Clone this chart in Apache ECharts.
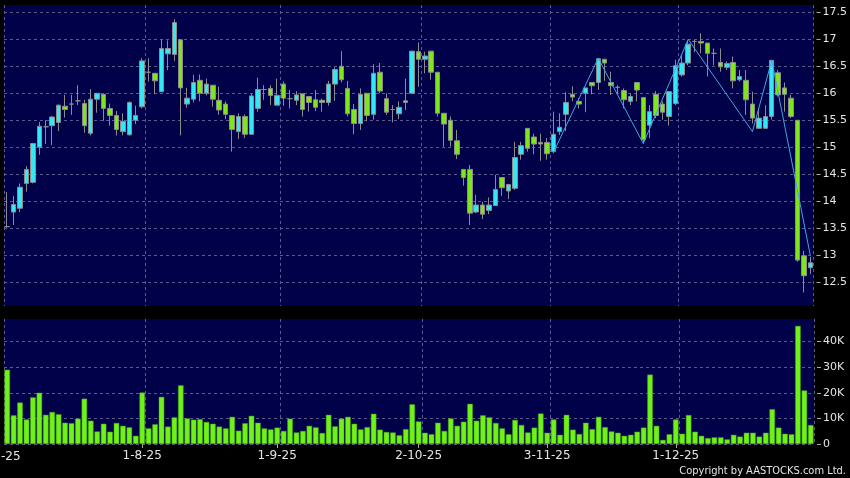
<!DOCTYPE html>
<html>
<head>
<meta charset="utf-8">
<script src="https://cdn.jsdelivr.net/npm/echarts@6/dist/echarts.min.js"></script>
<style>
  html, body { margin: 0; padding: 0; background: #000; }
  #main { width: 850px; height: 478px; }
</style>
</head>
<body>
<div id="main"></div>
<script>
  // trading days 3-7-25 .. 2-1-26, HK holidays left out
  var holidays = ['2025-10-01', '2025-10-07', '2025-10-29', '2025-12-25', '2025-12-26', '2026-01-01'];
  var labelDates = ['1-8-25', '1-9-25', '2-10-25', '3-11-25', '1-12-25'];
  var firstLabel = '2-7-25';   // day before the first bar, only its tail shows
  var priceTicks = [12.5, 13, 13.5, 14, 14.5, 15, 15.5, 16, 16.5, 17, 17.5];
  var volTicks = [0, 10000, 20000, 30000, 40000];

  var opens = [13.53, 13.80, 13.87, 14.33, 14.35, 15.00, 15.38, 15.40, 15.46, 15.76,
    15.80, 15.86, 15.81, 15.26, 15.89, 15.98, 15.72, 15.59, 15.29, 15.23,
    15.50, 15.75, 16.39, 16.37, 16.03, 16.73, 16.72, 16.99, 15.80, 15.89,
    16.24, 16.00, 16.15, 15.87, 15.80, 15.59, 15.29, 15.57, 15.24, 15.72,
    16.07, 16.09, 15.78, 16.17, 15.90, 15.87, 15.99, 15.94, 15.88, 15.87,
    15.83, 16.17, 16.50, 16.09, 15.70, 15.44, 16.00, 15.61, 16.39, 15.90,
    15.70, 15.62, 15.83, 16.00, 16.77, 16.63, 16.78, 16.39, 15.63, 15.50,
    15.12, 14.59, 14.59, 13.80, 13.93, 13.83, 13.92, 14.44, 14.19, 14.24,
    14.87, 15.35, 15.19, 15.09, 15.09, 14.92, 15.29, 15.61, 15.98, 15.85,
    16.00, 16.20, 16.20, 16.63, 16.20, 16.11, 16.05, 15.85, 16.20, 15.92,
    15.41, 15.98, 15.80, 15.57, 15.81, 16.34, 16.56, 16.96, 16.96, 16.93,
    16.74, 16.57, 16.48, 16.57, 16.25, 16.24, 15.80, 15.35, 15.35, 15.57,
    16.38, 16.10, 15.91, 15.50, 12.99, 12.77];
  var closes = [13.53, 13.94, 14.26, 14.59, 15.07, 15.39, 15.38, 15.56, 15.78, 15.70,
    15.80, 15.86, 15.40, 15.89, 16.00, 15.72, 15.59, 15.33, 15.48, 15.83,
    15.59, 16.60, 16.39, 16.23, 16.83, 16.83, 17.31, 16.10, 15.91, 16.20,
    16.00, 16.17, 15.89, 15.69, 15.61, 15.33, 15.57, 15.24, 15.95, 16.07,
    16.07, 15.96, 15.96, 15.91, 15.90, 15.97, 15.70, 15.83, 15.74, 15.83,
    16.17, 16.44, 16.25, 15.62, 15.44, 15.98, 15.59, 16.37, 16.04, 15.65,
    15.70, 15.74, 15.86, 16.78, 16.63, 16.69, 16.39, 15.63, 15.43, 15.13,
    14.87, 14.44, 13.78, 13.93, 13.76, 13.93, 14.22, 14.25, 14.31, 14.81,
    15.03, 14.98, 15.06, 15.06, 14.88, 15.24, 15.37, 15.83, 15.93, 15.80,
    16.10, 16.14, 16.64, 16.56, 16.14, 16.11, 15.88, 15.94, 16.06, 15.14,
    15.66, 15.59, 15.65, 16.03, 16.51, 16.56, 16.91, 16.96, 16.93, 16.74,
    16.74, 16.49, 16.55, 16.23, 16.31, 15.88, 15.54, 15.54, 15.57, 16.61,
    15.97, 15.98, 15.57, 12.91, 12.62, 12.86];
  var lows = [13.51, 13.56, 13.80, 14.18, 14.33, 14.86, 15.06, 15.04, 15.30, 15.55,
    15.60, 15.78, 15.27, 15.22, 15.64, 15.49, 15.40, 15.22, 15.22, 15.22,
    15.43, 15.72, 16.22, 15.98, 16.02, 16.43, 16.60, 15.22, 15.73, 15.83,
    15.85, 15.96, 15.75, 15.60, 15.52, 14.92, 15.15, 15.17, 15.24, 15.66,
    15.88, 15.78, 15.78, 15.77, 15.72, 15.78, 15.57, 15.66, 15.67, 15.66,
    15.77, 15.86, 16.20, 15.57, 15.24, 15.32, 15.48, 15.51, 16.00, 15.60,
    15.46, 15.52, 15.69, 16.00, 16.12, 16.37, 16.25, 15.57, 15.01, 15.01,
    14.78, 14.29, 13.56, 13.78, 13.67, 13.76, 13.92, 14.10, 14.04, 14.21,
    14.77, 14.92, 14.87, 14.75, 14.77, 14.89, 15.23, 15.30, 15.85, 15.72,
    15.65, 15.98, 16.06, 16.23, 15.97, 16.00, 15.72, 15.78, 15.85, 15.07,
    15.17, 15.54, 15.51, 15.40, 15.78, 16.31, 16.52, 16.76, 16.74, 16.31,
    16.52, 16.40, 16.43, 16.09, 16.22, 15.60, 15.44, 15.35, 15.35, 15.51,
    15.94, 15.66, 15.54, 12.88, 12.31, 12.65];
  var highs = [14.17, 14.10, 14.33, 14.65, 15.08, 15.47, 15.50, 15.58, 15.79, 15.97,
    15.97, 16.15, 15.88, 16.08, 16.00, 16.00, 15.81, 15.67, 15.63, 15.85,
    15.77, 16.65, 16.65, 16.37, 17.00, 16.98, 17.37, 16.99, 16.10, 16.34,
    16.35, 16.27, 16.15, 16.12, 15.85, 15.59, 15.63, 15.61, 16.00, 16.29,
    16.15, 16.15, 16.27, 16.22, 16.06, 16.04, 15.99, 15.94, 16.06, 15.90,
    16.23, 16.48, 16.78, 16.23, 15.80, 16.09, 16.00, 16.54, 16.56, 16.00,
    15.78, 15.85, 16.27, 16.78, 16.94, 16.77, 16.78, 16.39, 15.63, 15.57,
    15.32, 14.59, 14.67, 14.12, 13.99, 14.07, 14.49, 14.44, 14.31, 15.10,
    15.10, 15.35, 15.25, 15.25, 15.17, 15.66, 15.63, 16.02, 16.13, 15.91,
    16.10, 16.20, 16.65, 16.63, 16.40, 16.15, 16.09, 16.00, 16.20, 15.92,
    15.78, 16.04, 15.85, 16.04, 16.62, 16.71, 16.97, 16.99, 17.11, 16.93,
    16.83, 16.83, 16.59, 16.68, 16.43, 16.43, 16.03, 15.73, 15.78, 16.61,
    16.43, 16.20, 15.97, 15.50, 13.08, 12.97];
  // volume in thousands of shares
  var volumes = [29.0, 11.2, 16.2, 9.6, 18.2, 20.0, 11.4, 12.5, 11.6, 8.3,
    8.1, 9.9, 17.7, 9.1, 4.9, 7.9, 4.8, 8.2, 7.1, 6.5,
    3.2, 20.1, 6.1, 7.7, 18.4, 6.8, 10.4, 22.9, 10.0, 9.5,
    9.7, 8.6, 7.9, 6.8, 6.1, 10.6, 5.2, 8.1, 11.0, 8.3,
    6.1, 5.7, 6.4, 5.1, 9.9, 4.5, 5.1, 7.1, 6.5, 4.3,
    11.4, 6.9, 9.9, 10.6, 7.9, 5.7, 6.6, 11.8, 5.6, 4.7,
    4.5, 3.4, 5.8, 15.5, 8.8, 4.4, 3.8, 8.3, 5.1, 10.0,
    7.1, 8.7, 15.7, 9.1, 11.2, 10.4, 8.2, 6.1, 3.8, 9.4,
    7.4, 4.5, 6.4, 11.9, 4.4, 9.6, 3.6, 11.4, 5.6, 3.9,
    8.3, 5.8, 10.6, 6.6, 4.9, 4.4, 3.2, 3.6, 4.8, 6.4,
    27.1, 7.1, 1.6, 3.8, 9.6, 4.0, 11.3, 4.8, 3.2, 2.3,
    2.6, 2.6, 1.8, 3.6, 2.9, 4.4, 4.4, 2.9, 4.4, 13.6,
    6.4, 4.0, 3.8, 46.1, 20.9, 7.4];
  // zigzag swing points: [bar index, price]
  var zigzag = [[85, 14.9], [92, 16.65], [99, 15.07], [106, 17.0], [116, 15.29], [119, 16.61], [125, 13.0]];

  function pad(n) { return n < 10 ? '0' + n : '' + n; }
  var dates = [];
  var d = new Date(2025, 6, 3);
  var end = new Date(2026, 0, 2);
  while (d <= end) {
    var key = d.getFullYear() + '-' + pad(d.getMonth() + 1) + '-' + pad(d.getDate());
    if (d.getDay() !== 0 && d.getDay() !== 6 && holidays.indexOf(key) < 0) {
      dates.push(d.getDate() + '-' + (d.getMonth() + 1) + '-' + String(d.getFullYear()).slice(2));
    }
    d.setDate(d.getDate() + 1);
  }

  var candles = [];
  for (var i = 0; i < dates.length; i++) {
    candles.push([opens[i], closes[i], lows[i], highs[i]]);
  }
  var vols = volumes.map(function (v) { return v * 1000; });

  function isLabel(index, value) {
    return labelDates.indexOf(dates[index]) >= 0;
  }
  // month gridline sits on the right edge of the month's first bar
  function isSplit(index) {
    return index === 0 || labelDates.indexOf(dates[index - 1]) >= 0;
  }

  var navy = '#01014a';
  var gridLine = {show: true, lineStyle: {color: '#5a5a8c', type: [3, 3], width: 1}};
  var labelColor = '#e4e4e4';

  var chart = echarts.init(document.getElementById('main'), null, {renderer: 'canvas'});
  chart.setOption({
    backgroundColor: '#000',
    animation: false,
    textStyle: {fontFamily: 'DejaVu Sans'},
    grid: [
      {left: 4, top: 5, width: 810, height: 301, show: true, backgroundColor: navy, borderWidth: 0},
      {left: 4, top: 319, width: 810, height: 125, show: true, backgroundColor: navy, borderWidth: 0}
    ],
    xAxis: [
      {
        type: 'category', gridIndex: 0, data: dates,
        axisLine: {show: false}, axisTick: {show: false}, axisLabel: {show: false},
        splitLine: {show: true, interval: isSplit, lineStyle: gridLine.lineStyle}
      },
      {
        type: 'category', gridIndex: 1, data: dates,
        axisLine: {show: false},
        axisTick: {show: true, alignWithLabel: true, interval: isLabel, length: 4, lineStyle: {color: '#aaaaaa'}},
        axisLabel: {interval: isLabel, color: labelColor, fontSize: 12, margin: 6, fontFamily: 'DejaVu Sans'},
        splitLine: {show: true, interval: isSplit, lineStyle: gridLine.lineStyle}
      }
    ],
    yAxis: [
      {
        type: 'value', gridIndex: 0, position: 'right', min: 12.06, max: 17.635, offset: 3,
        axisLine: {show: false},
        axisTick: {show: true, length: 4, customValues: priceTicks, lineStyle: {color: '#aaaaaa'}},
        axisLabel: {customValues: priceTicks, color: labelColor, fontSize: 11, margin: 6, fontFamily: 'DejaVu Sans'},
        splitLine: gridLine
      },
      {
        type: 'value', gridIndex: 1, position: 'right', min: 0, max: 48800, offset: 3,
        axisLine: {show: false},
        axisTick: {show: true, length: 4, customValues: volTicks, lineStyle: {color: '#aaaaaa'}},
        axisLabel: {
          customValues: volTicks, color: labelColor, fontSize: 11, margin: 6, fontFamily: 'DejaVu Sans',
          formatter: function (v) { return v === 0 ? '0' : (v / 1000) + 'K'; }
        },
        splitLine: gridLine
      }
    ],
    series: [
      {
        name: 'price', type: 'candlestick', xAxisIndex: 0, yAxisIndex: 0,
        data: candles, barWidth: 5,
        itemStyle: {
          color: '#36e6f2', color0: '#80e61c',
          borderColor: '#8c8c8c', borderColor0: '#8c8c8c', borderColorDoji: '#8c8c8c', borderWidth: 1
        }
      },
      {
        name: 'zigzag', type: 'line', xAxisIndex: 0, yAxisIndex: 0,
        data: zigzag, symbol: 'none', z: 5,
        lineStyle: {color: '#44a4e4', width: 1}
      },
      {
        name: 'volume', type: 'bar', xAxisIndex: 1, yAxisIndex: 1,
        data: vols, barWidth: 5.5,
        itemStyle: {color: '#6ef21a', borderColor: '#4a9a16', borderWidth: 0.5}
      }
    ],
    graphic: [
      {
        type: 'text', x: 1, y: 457,
        style: {text: firstLabel, fill: labelColor, font: '12px "DejaVu Sans"', align: 'center', verticalAlign: 'middle', textAlign: 'center', textVerticalAlign: 'middle'}
      },
      {
        type: 'text', x: 846, y: 471,
        style: {text: 'Copyright by AASTOCKS.com Ltd.', fill: labelColor, font: '11px "DejaVu Sans Condensed"', align: 'right', verticalAlign: 'middle', textAlign: 'right', textVerticalAlign: 'middle'}
      }
    ]
  });
</script>
</body>
</html>
